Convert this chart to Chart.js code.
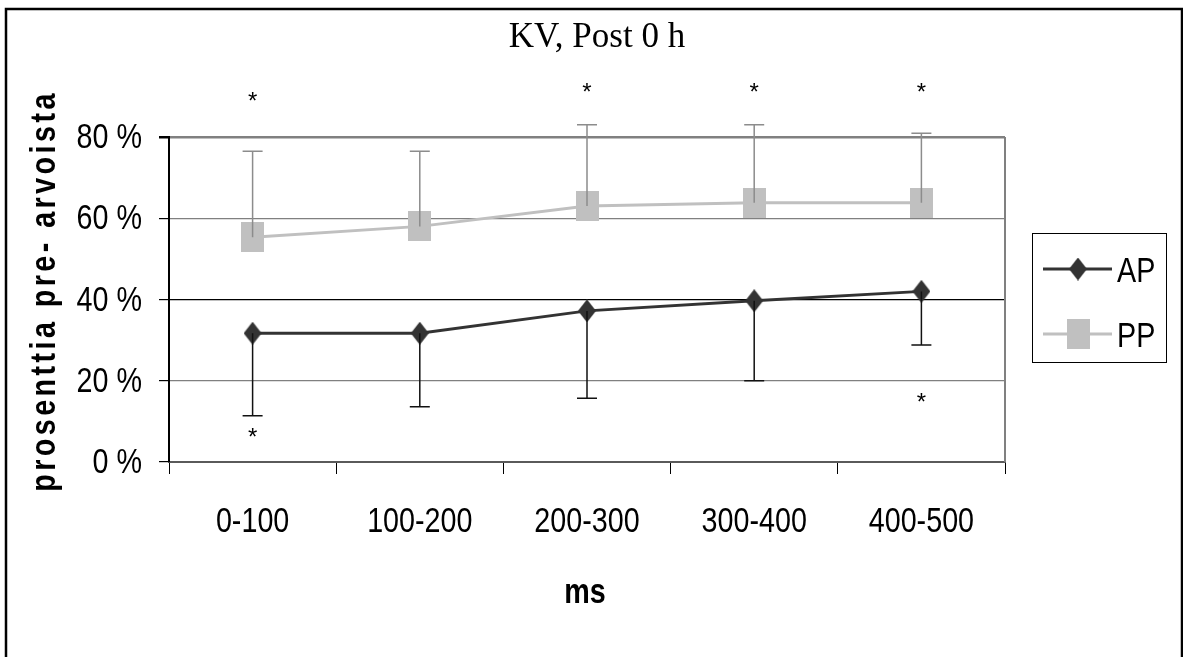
<!DOCTYPE html>
<html>
<head>
<meta charset="utf-8">
<script src="https://cdn.jsdelivr.net/npm/chart.js@4"></script>
<style>
  html, body { margin: 0; padding: 0; background: #fff; }
  #wrap { width: 1183px; height: 657px; }
</style>
</head>
<body>
<div id="wrap"><canvas id="kvChart" width="1183" height="657"></canvas></div>
<script>
// data
const categories = ['0-100', '100-200', '200-300', '300-400', '400-500'];
const apValues = [31.7, 31.7, 37.2, 39.7, 42.0];
const apLow = [11.4, 13.6, 15.7, 20.0, 28.8];
const ppValues = [55.3, 58.0, 63.0, 63.8, 63.8];
const ppHigh = [76.5, 76.5, 83.0, 83.0, 80.9];
// significance marks (*), in axis units
const ppStars = [89.4, null, 91.8, 91.8, 91.8];
const apStars = [6.9, null, null, null, 15.5];

const sans = "'Liberation Sans', Arial, sans-serif";
const AP_COLOR = '#333333';
const PP_COLOR = '#c0c0c0';
const SQUEEZE = 0.82; // the original uses a narrow face

const makeMarker = (w, h, color, diamond) => {
  const c = document.createElement('canvas');
  c.width = w;
  c.height = h;
  const g = c.getContext('2d');
  g.fillStyle = color;
  if (diamond) {
    g.beginPath();
    g.moveTo(w / 2, 0);
    g.lineTo(w, h / 2);
    g.lineTo(w / 2, h);
    g.lineTo(0, h / 2);
    g.closePath();
    g.fill();
  } else {
    g.fillRect(0, 0, w, h);
  }
  return c;
};

const diamond = makeMarker(18, 23, AP_COLOR, true);
const square = makeMarker(23, 30, PP_COLOR, false);

// narrow text: plain font squeezed horizontally
const narrowText = (ctx, text, x, y, align) => {
  ctx.save();
  ctx.translate(x, y);
  ctx.scale(SQUEEZE, 1);
  ctx.textAlign = align;
  ctx.fillText(text, 0, 0);
  ctx.restore();
};

// frame, tick labels, titles, legend
const decorations = {
  id: 'decorations',
  beforeDraw(chart) {
    const ctx = chart.ctx;
    ctx.save();
    ctx.fillStyle = '#fff';
    ctx.fillRect(0, 0, chart.width, chart.height);
    ctx.strokeStyle = '#000';
    ctx.lineWidth = 2.5;
    ctx.strokeRect(6, 9, 1176, 700);
    ctx.restore();
  },
  afterDraw(chart) {
    const ctx = chart.ctx;
    const area = chart.chartArea;
    const xs = chart.scales.x;
    const ys = chart.scales.y;
    ctx.save();

    // right side of plot frame
    ctx.strokeStyle = '#808080';
    ctx.lineWidth = 2;
    ctx.beginPath();
    ctx.moveTo(area.right, area.top);
    ctx.lineTo(area.right, area.bottom);
    ctx.stroke();

    ctx.fillStyle = '#000';
    ctx.textBaseline = 'alphabetic';

    // tick labels
    ctx.font = '35px ' + sans;
    ys.ticks.forEach((t) => {
      narrowText(ctx, t.value + ' %', 142, ys.getPixelForValue(t.value) + 11, 'right');
    });
    categories.forEach((c, i) => {
      narrowText(ctx, c, xs.getPixelForValue(i), 532, 'center');
    });

    ctx.font = "35px 'Liberation Serif', 'Times New Roman', serif";
    ctx.textAlign = 'center';
    ctx.fillText('KV, Post 0 h', 597, 47);

    ctx.font = 'bold 35px ' + sans;
    narrowText(ctx, 'ms', 585, 603, 'center');

    ctx.save();
    ctx.translate(55, 291);
    ctx.rotate(-Math.PI / 2);
    ctx.scale(SQUEEZE, 1);
    ctx.letterSpacing = '4.2px';
    ctx.textAlign = 'center';
    ctx.fillText('prosenttia pre- arvoista', 0, 0);
    ctx.restore();

    // legend
    ctx.strokeStyle = '#000';
    ctx.lineWidth = 1;
    ctx.strokeRect(1032.5, 233.5, 134, 129);
    ctx.lineWidth = 3;
    ctx.strokeStyle = AP_COLOR;
    ctx.beginPath();
    ctx.moveTo(1043, 269);
    ctx.lineTo(1112, 269);
    ctx.stroke();
    ctx.drawImage(diamond, 1078 - diamond.width / 2, 269 - diamond.height / 2);
    ctx.strokeStyle = PP_COLOR;
    ctx.beginPath();
    ctx.moveTo(1043, 334);
    ctx.lineTo(1112, 334);
    ctx.stroke();
    ctx.drawImage(square, 1078 - square.width / 2, 334 - square.height / 2);
    ctx.font = '35px ' + sans;
    narrowText(ctx, 'AP', 1117, 282, 'left');
    narrowText(ctx, 'PP', 1117, 347, 'left');

    ctx.restore();
  }
};

// one-sided error bars and the asterisks
const errorBars = {
  id: 'errorBars',
  afterDatasetsDraw(chart) {
    const ctx = chart.ctx;
    const xs = chart.scales.x;
    const ys = chart.scales.y;
    const cap = 10;
    ctx.save();
    ctx.lineWidth = 1.5;

    const bar = (i, from, to, color) => {
      const x = xs.getPixelForValue(i);
      const y0 = ys.getPixelForValue(from);
      const y1 = ys.getPixelForValue(to);
      ctx.strokeStyle = color;
      ctx.beginPath();
      ctx.moveTo(x, y0);
      ctx.lineTo(x, y1);
      ctx.moveTo(x - cap, y1);
      ctx.lineTo(x + cap, y1);
      ctx.stroke();
    };

    categories.forEach((c, i) => {
      bar(i, ppValues[i], ppHigh[i], '#8c8c8c');
      bar(i, apValues[i], apLow[i], '#111');
    });

    ctx.fillStyle = '#000';
    ctx.font = '24px ' + sans;
    ctx.textAlign = 'center';
    ctx.textBaseline = 'middle';
    categories.forEach((c, i) => {
      const x = xs.getPixelForValue(i);
      if (ppStars[i] !== null) ctx.fillText('*', x, ys.getPixelForValue(ppStars[i]) + 4);
      if (apStars[i] !== null) ctx.fillText('*', x, ys.getPixelForValue(apStars[i]) + 4);
    });
    ctx.restore();
  }
};

Chart.defaults.font.family = sans;
Chart.defaults.color = '#000';

new Chart(document.getElementById('kvChart'), {
  type: 'line',
  data: {
    labels: categories,
    datasets: [
      {
        label: 'AP',
        data: apValues,
        borderColor: AP_COLOR,
        borderWidth: 3,
        pointStyle: diamond,
        pointRadius: 10,
        tension: 0,
      },
      {
        label: 'PP',
        data: ppValues,
        borderColor: PP_COLOR,
        borderWidth: 3,
        pointStyle: square,
        pointRadius: 12,
        tension: 0,
      },
    ],
  },
  options: {
    responsive: false,
    animation: false,
    events: [],
    layout: { padding: { left: 0, right: 178, top: 137, bottom: 135 } },
    plugins: {
      legend: { display: false },
      title: { display: false },
      tooltip: { enabled: false },
    },
    scales: {
      x: {
        offset: true,
        afterFit: (scale) => { scale.height = 60; },
        grid: {
          offset: true,
          drawOnChartArea: false,
          drawTicks: true,
          tickLength: 12,
          tickColor: '#000',
        },
        border: { color: '#5a5a5a', width: 2 },
        ticks: { display: false },
      },
      y: {
        min: 0,
        max: 80,
        afterFit: (scale) => { scale.width = 169; },
        grid: {
          color: (ctx) => (ctx.tick && ctx.tick.value === 40 ? '#000' : '#808080'),
          lineWidth: (ctx) => (ctx.tick && ctx.tick.value === 80 ? 2.5 : 1.2),
          tickLength: 10,
          tickColor: '#000',
        },
        border: { color: '#000', width: 2 },
        ticks: { display: false, stepSize: 20 },
      },
    },
  },
  plugins: [decorations, errorBars],
});
</script>
</body>
</html>
